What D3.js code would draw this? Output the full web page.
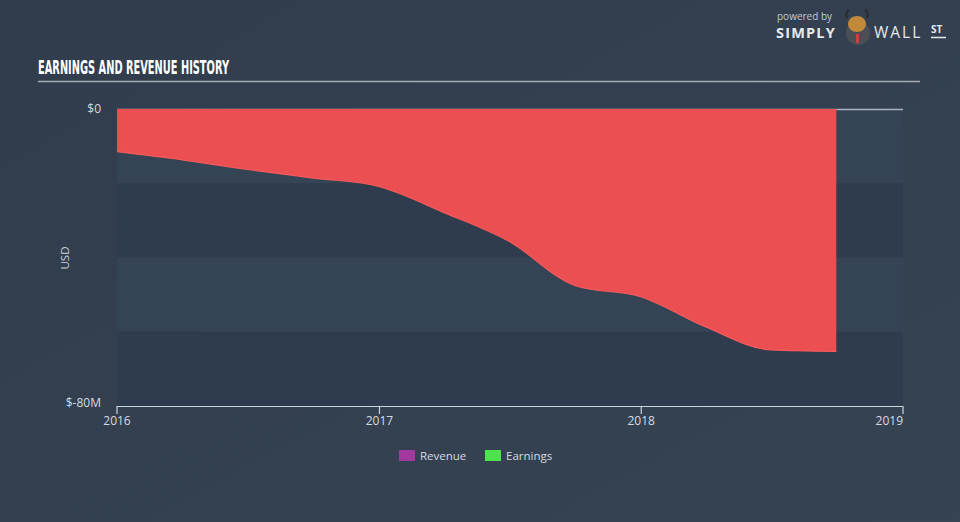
<!DOCTYPE html>
<html><head><meta charset="utf-8">
<script src="https://cdn.jsdelivr.net/npm/d3@7"></script>
<style>
html,body{margin:0;padding:0;background:#333f4f;}
svg{display:block;}
</style></head>
<body>
<svg id="chart" width="960" height="522"></svg>
<script>
// Data (USD millions), quarterly trailing earnings
const dates = ["2016-01-01","2016-04-01","2016-07-01","2016-10-01","2017-01-01","2017-04-01","2017-07-01","2017-10-01","2018-01-01","2018-04-01","2018-07-01","2018-09-30"];
const earnings = [-11.5, -13.7, -16.3, -18.6, -20.9, -27.9, -35.7, -47.6, -50.6, -58.7, -64.9, -65.3];
const yTicks = [0, -80];
const yTickLabels = ["$0", "$-80M"];
const xTickYears = [2016, 2017, 2018, 2019];
const legendNames = ["Revenue", "Earnings"];
const legendColors = ["#a2399e", "#4fe24f"];

const svg = d3.select("#chart");
const W = 960, H = 522;
const m = {l:117, r:903, t:109, b:406};
const parse = d3.timeParse("%Y-%m-%d");
const pts = dates.map((d,i)=>({date:parse(d), v:earnings[i]}));

// background gradient
const defs = svg.append("defs");
const g = defs.append("linearGradient").attr("id","bg").attr("x1",0).attr("y1",0).attr("x2",1).attr("y2",1);
g.append("stop").attr("offset","0%").attr("stop-color","#313d4d");
g.append("stop").attr("offset","100%").attr("stop-color","#364352");
svg.append("rect").attr("width",W).attr("height",H).attr("fill","url(#bg)");

const x = d3.scaleTime().domain([new Date(2016,0,1), new Date(2019,0,1)]).range([m.l, m.r]);
const y = d3.scaleLinear().domain([-80, 0]).range([m.b, m.t]);

// bands
const bandEdges = [0,-20,-40,-60,-80];
for (let i=0;i<4;i++){
  svg.append("rect").attr("x",m.l).attr("width",m.r-m.l)
    .attr("y",y(bandEdges[i])).attr("height",y(bandEdges[i+1])-y(bandEdges[i]))
    .attr("fill", i%2===0 ? "#354455" : "#2f3c4d");
}

// zero line
svg.append("line").attr("x1",m.l).attr("x2",m.r).attr("y1",y(0)+0.5).attr("y2",y(0)+0.5)
  .attr("stroke","#a9b1ba").attr("stroke-width",1.5);

// area
const area = d3.area().x(d=>x(d.date)).y0(y(0)).y1(d=>y(d.v)).curve(d3.curveMonotoneX);
svg.append("path").datum(pts).attr("d",area).attr("fill","#eb4f52");
const line = d3.line().x(d=>x(d.date)).y(d=>y(d.v)).curve(d3.curveMonotoneX);
svg.append("path").datum(pts).attr("d",line).attr("fill","none").attr("stroke","#f65a5b").attr("stroke-width",1.2);

// x axis
const xa = svg.append("g").attr("transform",`translate(0,${m.b})`);
xa.append("line").attr("x1",m.l).attr("x2",m.r).attr("y1",0.5).attr("y2",0.5).attr("stroke","#c9d3de").attr("stroke-width",1.2);
xTickYears.forEach((yr,i)=>{
  const xp = x(new Date(yr,0,1));
  xa.append("line").attr("x1",xp).attr("x2",xp).attr("y1",0).attr("y2",8).attr("stroke","#c9d3de").attr("stroke-width",1.2);
  xa.append("text").attr("x", xp).attr("y",19)
    .attr("text-anchor", i===xTickYears.length-1 ? "end" : "middle")
    .attr("font-family","'Open Sans', sans-serif").attr("font-size",12).attr("fill","#d5dae0").text(yr);
});

// y tick labels
yTicks.forEach((t,i)=>{
  svg.append("text").attr("x",101).attr("y",y(t)+ (i===0?4:1))
    .attr("text-anchor","end").attr("font-family","'Open Sans', sans-serif").attr("font-size",12)
    .attr("fill","#d5dae0").text(yTickLabels[i]);
});
svg.append("text").attr("transform","translate(69,258) rotate(-90)").attr("text-anchor","middle")
  .attr("font-family","'Open Sans', sans-serif").attr("font-size",11.5).attr("fill","#c9cfd6").text("USD");

// title
svg.append("text").attr("x",38).attr("y",74).attr("font-family","'DejaVu Sans Condensed','DejaVu Sans',sans-serif")
  .attr("font-weight","bold").attr("font-size",20).attr("fill","#ffffff")
  .attr("textLength",191).attr("lengthAdjust","spacingAndGlyphs").text("EARNINGS AND REVENUE HISTORY");
svg.append("line").attr("x1",38).attr("x2",920).attr("y1",81.5).attr("y2",81.5).attr("stroke","#a4abb3").attr("stroke-width",1.5);

// legend
legendNames.forEach((n,i)=>{
  const gx = i===0 ? 399 : 485;
  svg.append("rect").attr("x",gx).attr("y",450).attr("width",16).attr("height",11).attr("fill",legendColors[i]);
  svg.append("text").attr("x",gx+21).attr("y",460).attr("font-family","'Open Sans', sans-serif")
    .attr("font-size",11.5).attr("fill","#d5dae0").text(n);
});

// logo
svg.append("text").attr("x",777).attr("y",19.5).attr("font-family","'Open Sans', sans-serif").attr("font-size",10).attr("fill","#c2c8cf").text("powered by");
svg.append("text").attr("x",776).attr("y",38).attr("font-family","'Open Sans', sans-serif").attr("font-weight","bold").attr("font-size",14.5).attr("fill","#e6e9ec").attr("letter-spacing",1.2).text("SIMPLY");
svg.append("circle").attr("cx",858).attr("cy",33).attr("r",12).attr("fill","#4a4f56");
svg.append("ellipse").attr("cx",857).attr("cy",24).attr("rx",9).attr("ry",8).attr("fill","#c08a3a");
svg.append("path").attr("d","M847,18 Q845,12 849,10 M867,18 Q869,12 865,10").attr("stroke","#2a2a2a").attr("stroke-width",2).attr("fill","none");
svg.append("rect").attr("x",856).attr("y",34).attr("width",3).attr("height",9).attr("fill","#d0403a");
svg.append("text").attr("x",874).attr("y",38).attr("font-family","'Open Sans', sans-serif").attr("font-size",15.5).attr("fill","#e6e9ec").attr("letter-spacing",2).text("WALL");
svg.append("text").attr("x",931).attr("y",33).attr("font-family","'Open Sans', sans-serif").attr("font-weight","bold").attr("font-size",10).attr("fill","#e6e9ec").text("ST");
svg.append("line").attr("x1",931).attr("x2",946).attr("y1",37.5).attr("y2",37.5).attr("stroke","#e6e9ec").attr("stroke-width",1.5);
</script>
</body></html>
